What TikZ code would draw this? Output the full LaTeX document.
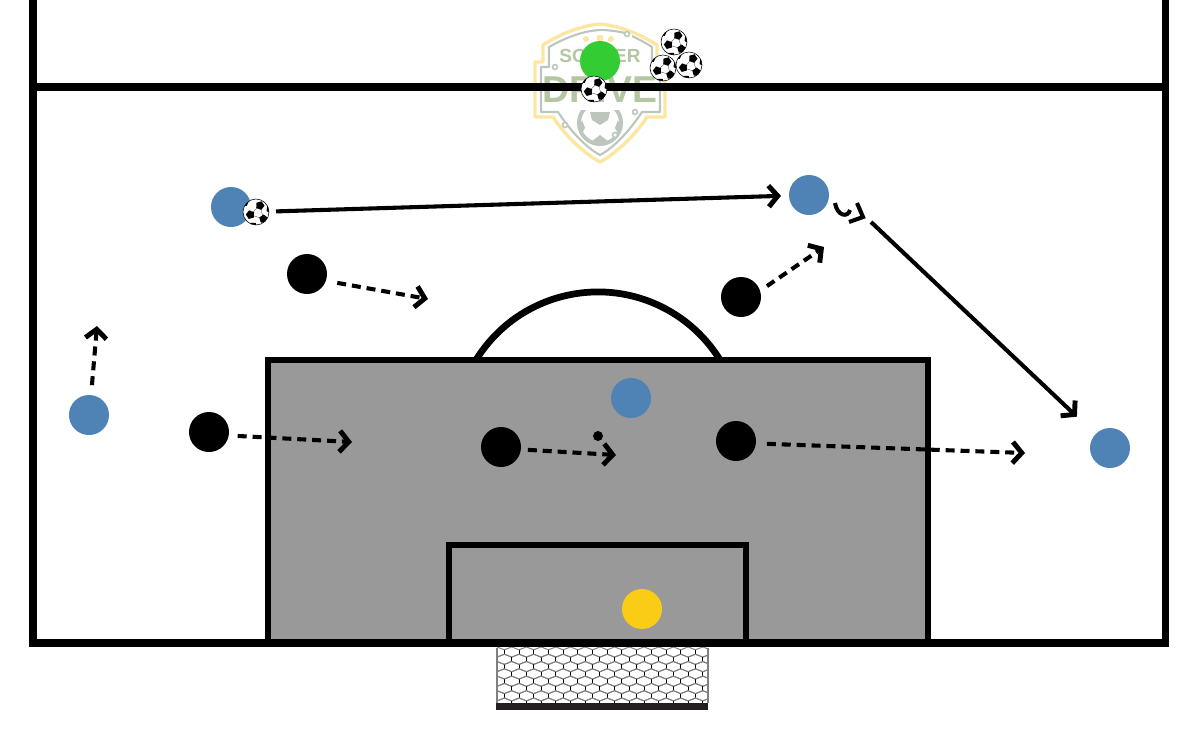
\documentclass[tikz,border=0pt]{standalone}
\usepackage{fontspec}
\setmainfont{Liberation Sans}
\usepackage{xcolor}
\usepackage{tikz}
\usetikzlibrary{arrows.meta}
\definecolor{playerblue}{HTML}{5083B5}
\definecolor{playergreen}{HTML}{33CC33}
\definecolor{keeperyellow}{HTML}{FACC15}
\definecolor{boxgray}{HTML}{999999}
\definecolor{netdark}{HTML}{231F20}
\definecolor{logogreen}{HTML}{B4C6A2}
\definecolor{logogray}{HTML}{BCC6BC}
\definecolor{logoyellow}{HTML}{FBE7A1}
\tikzset{
  soccerball/.pic={
    \fill[white] (0,0) circle (13);
    \begin{scope}
      \clip (0,0) circle (13);
      \foreach \px/\py/\rot in {4/-6.5/15, -5.7/2.7/-20, 7.5/7/35, -3/14.5/0, 14.5/-3/10, -11.5/-10/30}{
        \fill[black,shift={(\px,\py)},rotate=\rot] (90:4.5) -- (162:4.5) -- (234:4.5) -- (306:4.5) -- (18:4.5) -- cycle;
      }
    \end{scope}
    \draw[black,line width=0.4pt] (0,0) circle (13);
    \draw[black,line width=0.15pt] (4,-6.5) -- (-5.7,2.7) -- (7.5,7) -- cycle;
  }
}
\begin{document}
\begin{tikzpicture}[x=0.025cm,y=-0.025cm,
  player/.style={circle,minimum size=1cm,inner sep=0pt,outer sep=0pt},
  pitchline/.style={black,line width=5pt,miter limit=10},
  boxline/.style={black,line width=4.8pt},
  passline/.style={black,line width=2.9pt,-{Straight Barb[length=6.5pt,width=15pt,line width=3.5pt]}},
  runline/.style={passline,dash pattern=on 6.4pt off 4.2pt}]
  \useasboundingbox (0,0) rectangle (1200,750);

  \draw[logoyellow,line width=2.4pt,line join=round] (600,24) .. controls (580,26) and (560,34) .. (543,45) -- (543,62) -- (535,62) -- (535,117) -- (553,117) .. controls (565,135) and (582,152) .. (600,162) .. controls (618,152) and (635,135) .. (647,117) -- (665,117) -- (665,62) -- (657,62) -- (657,45) .. controls (640,34) and (620,26) .. (600,24) -- cycle;
  \draw[logogray,line width=1.5pt,line join=round] (625,33) .. controls (616,31) and (608,30) .. (600,30) .. controls (582,31) and (565,38) .. (549,47) -- (549,67) -- (541,67) -- (541,112) -- (558,112) .. controls (570,130) and (585,147) .. (600,155) .. controls (615,147) and (630,130) .. (642,112) -- (660,112) -- (660,67) -- (652,67) -- (652,47) .. controls (646,43) and (640,40) .. (632,36);
  \begin{scope}
    \clip (570,110) rectangle (630,150);
    \fill[logogray] (600,123) circle (23);
    \fill[white] (600,123) circle (19);
  \end{scope}
  \fill[logogray] (590,112) -- (610,112) -- (608,120) -- (600,125) -- (592,120) -- cycle (582,120) -- (585,128) -- (581,135) -- (579,128) -- cycle (618,120) -- (615,128) -- (619,135) -- (621,128) -- cycle (591,142) -- (609,142) -- (600,135) -- cycle;
  \draw[logogray,line width=1.1pt,fill=white] (627,34) circle (2.5) (555,67) circle (2.5) (635,112) circle (2.5) (565,125) circle (2.5) (615,135) circle (2.5);
  \fill[logoyellow] (586,39) circle (3) (600,38) circle (3.5) (611,39) circle (3);
  \node (logoTop) at (600,56) [logogreen,font=\bfseries\fontsize{13.5pt}{14pt}\selectfont,inner sep=0pt] {SOCCER};
  \node (logoMain) at (600,90) [logogreen,font=\bfseries\fontsize{26.6pt}{28pt}\selectfont,inner sep=0pt] {DRIVE};

  \draw[boxline,fill=boxgray] (268,360) rectangle (928,643);
  \draw[boxline] (449,643) -- (449,545) -- (746,545) -- (746,643);
  \draw[boxline] (476,360) arc[start angle=148.3,end angle=31.7,radius=3.585cm];
  \draw[pitchline] (33,0) -- (33,643) -- (1165,643) -- (1165,0);
  \draw[pitchline] (33,87) -- (1165,87);

  \begin{scope}
    \clip (497,647) rectangle (708,703);
    \foreach \row in {0,...,8}{
      \foreach \col in {0,...,15}{
        \pgfmathsetmacro{\cx}{497+\col*14.7+mod(\row,2)*7.35}
        \pgfmathsetmacro{\cy}{652+\row*7.3}
        \draw[gray,line width=0.7pt] (\cx-7.35,\cy-2.2) -- (\cx,\cy-5.1) -- (\cx+7.35,\cy-2.2) (\cx-7.35,\cy+2.2) -- (\cx,\cy+5.1) -- (\cx+7.35,\cy+2.2);
        \draw[black,line width=0.7pt] (\cx+7.35,\cy-2.2) -- (\cx+7.35,\cy+2.2);
      }
    }
  \end{scope}
  \draw[gray,line width=0.8pt] (497,648) -- (497,703) (708,648) -- (708,703);
  \fill[netdark] (496,703) rectangle (708,709.5);

  \node[player,fill=playergreen] (pGreen) at (600,61) {};
  \node[player,fill=keeperyellow] (pKeeper) at (642,609) {};
  \node[player,fill=playerblue] (pBlueA) at (231,207) {};
  \node[player,fill=playerblue] (pBlueB) at (809,195) {};
  \node[player,fill=playerblue] (pBlueC) at (1110,448) {};
  \node[player,fill=playerblue] (pBlueD) at (89,415) {};
  \node[player,fill=playerblue] (pBlueE) at (631,398) {};
  \node[player,fill=black] (pBlackA) at (307,274) {};
  \node[player,fill=black] (pBlackB) at (741,297) {};
  \node[player,fill=black] (pBlackC) at (209,432) {};
  \node[player,fill=black] (pBlackD) at (501,447) {};
  \node[player,fill=black] (pBlackE) at (736,441) {};
  \fill[black] (598,436) circle (5);

  \pic at (256,212) {soccerball};
  \pic at (594,89) {soccerball};
  \pic at (674,42) {soccerball};
  \pic at (663,68) {soccerball};
  \pic at (689,65) {soccerball};

  \coordinate (cBallA) at (256,212);
  \coordinate (cTurn) at (871,222);
  \coordinate (cRunA) at (428,299);
  \coordinate (cRunB) at (824,247);
  \coordinate (cRunC) at (352,442);
  \coordinate (cRunD) at (616,455);
  \coordinate (cRunE) at (1025,453);
  \coordinate (cRunF) at (97,326);

  \draw[passline,shorten <=0.5cm,shorten >=0.2cm] (cBallA) -- (pBlueB);
  \draw[passline,shorten >=0.64cm] (cTurn) -- (pBlueC);
  \draw[runline,shorten <=0.29cm] (pBlackA.-20) -- (cRunA);
  \draw[runline,shorten <=0.21cm] (pBlackB.18) -- (cRunB);
  \draw[runline,shorten <=0.225cm] (pBlackC.-10) -- (cRunC);
  \draw[runline,shorten <=0.175cm] (pBlackD.-7) -- (cRunD);
  \draw[runline,shorten <=0.275cm] (pBlackE.-7.5) -- (cRunE);
  \draw[runline,shorten <=0.25cm] (pBlueD.84) -- (cRunF);
  \draw[black,line width=2.9pt] (835,203) .. controls (837,216) and (848,218) .. (850,210);
  \draw[black,line width=2.9pt] (857,203) -- (863,217) -- (849,222);
\end{tikzpicture}
\end{document}
